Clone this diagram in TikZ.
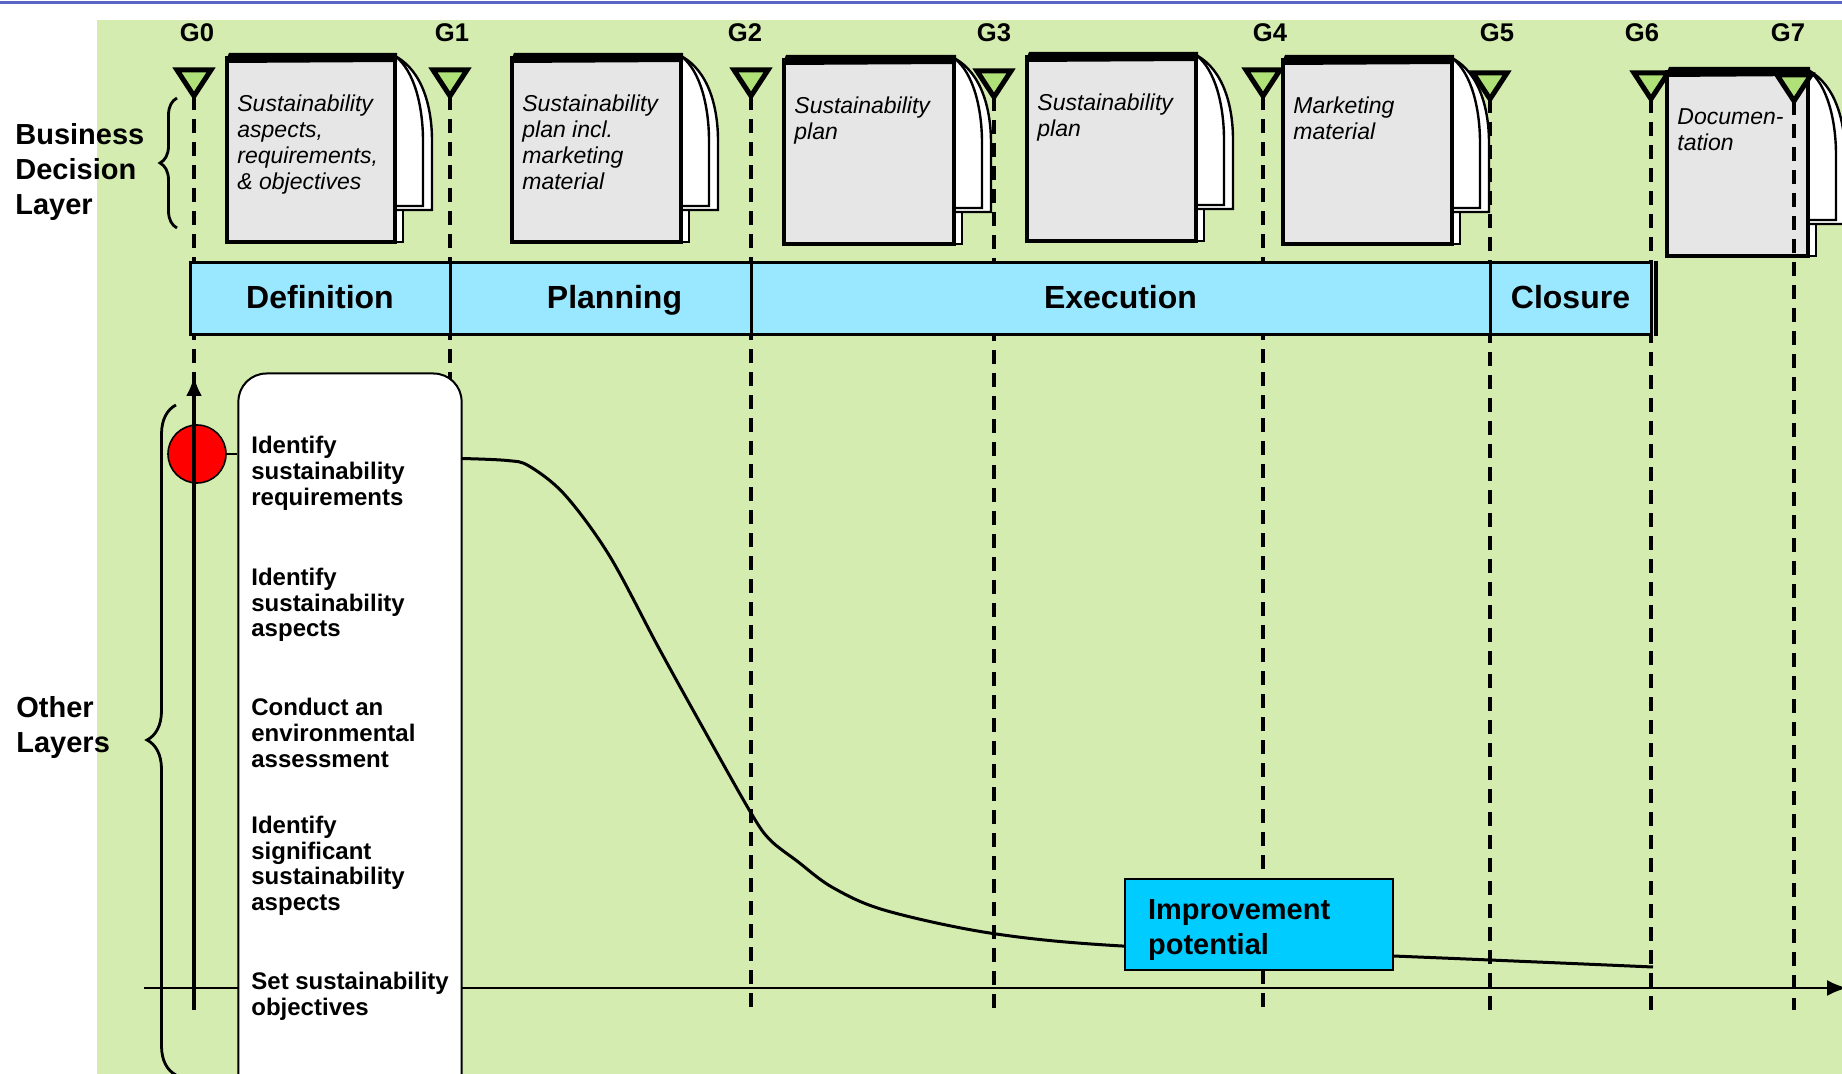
\documentclass[tikz,border=0pt]{standalone}
\usepackage{fontspec}
\setmainfont{Liberation Sans}
\usetikzlibrary{arrows.meta,decorations.pathreplacing}

\definecolor{layergreen}{RGB}{212,236,176}
\definecolor{phasecyan}{RGB}{153,232,255}
\definecolor{potcyan}{RGB}{0,204,255}
\definecolor{gategreen}{RGB}{176,224,120}
\definecolor{pagegray}{RGB}{230,230,230}
\definecolor{rulerblue}{RGB}{90,100,200}

\begin{document}
\begin{tikzpicture}[x=0.5pt,y=-0.5pt,
   phase/.style={draw,line width=1.5pt,fill=phasecyan,minimum height=36pt,inner sep=0pt,text height=12.6pt,text depth=3.4pt,font=\bfseries\fontsize{16}{19}\selectfont},
   gateline/.style={line width=1.6pt,dash pattern=on 7pt off 4.5pt},
   gatemark/.style={draw,line width=2.5pt,fill=gategreen,line join=miter},
   gatelabel/.style={anchor=base,inner sep=0pt,font=\bfseries\fontsize{12.8}{15}\selectfont},
   layerlabel/.style={anchor=north west,inner sep=0pt,align=left,font=\bfseries\fontsize{14.5}{17.5}\selectfont},
   layerbrace/.style={line width=1.4pt,decorate},
   stepsbox/.style={draw,fill=white,line width=1pt,rounded corners=14pt,minimum width=111.6pt,minimum height=373.25pt,inner sep=0pt},
   steptext/.style={anchor=north west,inner sep=0pt,align=left,font=\bfseries\fontsize{12}{12.9}\selectfont},
   startdot/.style={circle,draw,fill=red,line width=0.8pt,minimum size=29pt,inner sep=0pt},
   timeaxis/.style={line width=1.25pt,-{Latex[length=10pt,width=8pt]}},
   profile/.style={line width=1.5pt},
   potbox/.style={draw,line width=1pt,fill=potcyan,minimum width=134pt,minimum height=45.8pt,inner sep=0pt},
   pottext/.style={anchor=north west,inner sep=0pt,align=left,font=\bfseries\fontsize{14.5}{17.5}\selectfont},
   backpage/.style={draw,fill=white,line width=1pt},
   curlpage/.style={draw,fill=white,line width=1.2pt},
   mainpage/.style={draw,fill=pagegray,line width=1.6pt},
   doctext/.style={anchor=north west,inner sep=0pt,align=left,font=\itshape\fontsize{11.5}{13}\selectfont}]
\useasboundingbox (0,0) rectangle (1842,1074);
\clip (0,0) rectangle (1842,1074);
\fill[white] (0,0) rectangle (1842,1074);
\fill[layergreen] (97,20) rectangle (1842,1074);
\draw[line width=1.5pt,rulerblue] (0,3) -- (1842,3);

\foreach \px/\py/\pw/\ptxt [count=\i] in {
  227/53/168/{Sustainability\\aspects,\\requirements,\\\& objectives},
  512/53/169/{Sustainability\\plan incl.\\marketing\\material},
  784/55/170/{Sustainability\\plan},
  1027/52/169/{Sustainability\\plan},
  1283/55/169/{Marketing\\material},
  1667/67/141/{Documen-\\tation}} {
  \draw[backpage] (\px+8,\py+14) rectangle (\px+\pw+8,\py+189);
  \draw[curlpage] (\px+\pw,\py+3) .. controls (\px+\pw+28,\py+18) and (\px+\pw+37,\py+55) .. (\px+\pw+37,\py+88) -- (\px+\pw+37,\py+157) -- (\px+\pw,\py+157) -- cycle;
  \draw[curlpage] (\px+\pw,\py+3) .. controls (\px+\pw+20,\py+18) and (\px+\pw+28,\py+55) .. (\px+\pw+28,\py+88) -- (\px+\pw+28,\py+153) -- (\px+\pw,\py+153) -- cycle;
  \draw[mainpage] (\px,\py+5) rectangle (\px+\pw,\py+189);
  \fill (\px-2,\py+10) -- (\px+2,\py) -- (\px+\pw+2,\py) -- (\px+\pw+2,\py+9) -- cycle;
  \node[doctext] (doc\i) at (\px+10,\py+41) {\ptxt};
}

\foreach \g/\gx/\lx/\gy in {0/194/197/68, 1/450/452/68, 2/751/745/68, 3/994/994/69,
    4/1263/1270/68, 5/1490/1497/71, 6/1651/1642/71, 7/1794/1788/73} {
  \draw[gateline] (\gx,\gy+28) -- (\gx,1010);
  \draw[gatemark] (\gx-17,\gy+2) -- (\gx+17,\gy+2) -- (\gx,\gy+28) -- cycle;
  \node[gatelabel] (g\g) at (\lx,42) {G\g};
}

\node[phase,minimum width=130pt] (def) at (320,299) {Definition};
\node[phase,minimum width=150.5pt] (plan) at (600.5,299) {\hspace*{14pt}Planning};
\node[phase,minimum width=369.5pt] (exe) at (1120.5,299) {Execution};
\node[phase,minimum width=80.5pt] (clo) at (1570.5,299) {Closure};
\draw[line width=2pt] ([xshift=1.5pt]clo.north east) -- ([xshift=1.5pt]clo.south east);

\node[layerlabel] (bdl) at (15,123) {Business\\Decision\\Layer};
\node[layerlabel] (ol) at (16,696) {Other\\Layers};
\draw[layerbrace,decoration={brace,amplitude=8.5pt}] (177,228) -- (177,98);
\draw[layerbrace,decoration={brace,amplitude=14.5pt}] (176,1075) -- (176,405);

\coordinate (xfoot) at (144,988);
\coordinate (xtip) at (1847,988);
\draw[timeaxis] (xfoot) -- (xtip);

\node[stepsbox] (steps) at (350,746.75) {};
\node[steptext] (s1) at (251,436) {Identify\\sustainability\\requirements};
\node[steptext] (s2) at (251,567.5) {Identify\\sustainability\\aspects};
\node[steptext] (s3) at (251,698) {Conduct an\\environmental\\assessment};
\node[steptext] (s4) at (251,815.5) {Identify\\significant\\sustainability\\aspects};
\node[steptext] (s5) at (251,971.5) {Set sustainability\\objectives};

\node[startdot] (start) at (197,454) {};
\draw[line width=1pt] (start) -- (start -| steps.west);

\coordinate (yfoot) at (194,1010);
\coordinate (ytip) at (194,376);
\draw[timeaxis,line width=1.8pt] (yfoot) -- (ytip);

\draw[profile] plot[smooth,tension=0.55] coordinates {(461.7,458.5) (507,460.5) (529,466) (565,495) (609.6,556) (658.8,648) (703.4,728.7) (751,813) (770,839.8) (797,861) (833,887.7) (886,910.6) (993.6,933.6) (1127.5,946.3) (1393,956) (1653,967)};

\node[potbox] (pot) at (1259.3,924.5) {};
\node[pottext] (pottxt) at (1147.7,899.5) {Improvement\\potential};
\end{tikzpicture}
\end{document}
